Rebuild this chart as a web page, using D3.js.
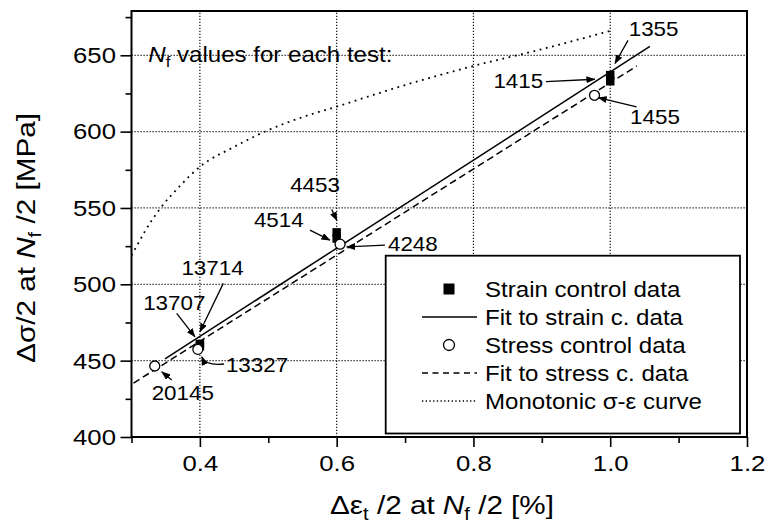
<!DOCTYPE html>
<html>
<head>
<meta charset="utf-8">
<script src="https://cdn.jsdelivr.net/npm/d3@7"></script>
<style>
  html, body { margin: 0; padding: 0; background: #fff; }
  svg { display: block; }
  text { font-family: "Liberation Sans", Arial, Helvetica, sans-serif; fill: #000; }
</style>
</head>
<body>
<svg id="chart" width="769" height="528"></svg>
<script>
// ---------- data ----------
const xTicksMajor = [0.4, 0.6, 0.8, 1.0, 1.2];
const xTicksMinor = [0.3, 0.5, 0.7, 0.9, 1.1];
const yTicksMajor = [400, 450, 500, 550, 600, 650];
const yTicksMinor = [425, 475, 525, 575, 625, 675];
const xGrid = [0.4, 0.6, 0.8, 1.0];
const yGrid = [450, 500, 550, 600, 650];

const strainX = [0.4, 0.4, 0.6, 0.6, 1.0, 1.0];
const strainY = [461, 459.5, 534, 530, 637, 633];
const strainN = ["13707", "13714", "4453", "4514", "1355", "1415"];

const stressX = [0.334, 0.397, 0.605, 0.977];
const stressY = [446.5, 457.4, 526.3, 623.8];
const stressN = ["20145", "13327", "4248", "1455"];

const strainFitX = [0.349, 1.058];
const strainFitY = [451.2, 655.8];
const stressFitX = [0.303, 1.039];
const stressFitY = [435.3, 643.0];

const monoX = [0.3, 0.31, 0.32, 0.34, 0.37, 0.4, 0.45, 0.5, 0.55, 0.6, 0.7, 0.8, 0.9, 1.0];
const monoY = [519, 527, 535, 548.5, 564, 577, 590, 601, 609.5, 616.4, 630.5, 643, 654, 666];

// annotation labels: label start (data units), arrow from -> to (data units)
const annLabels = ["1355", "1415", "1455", "4453", "4514", "4248", "13714", "13707", "13327", "20145"];
const annLX =     [1.027, 0.902, 1.029, 0.532, 0.479, 0.675, 0.373, 0.317, 0.438, 0.3295];
const annLY =     [662.4, 628.4, 605.2, 560.3, 537.4, 521.7, 506.0, 483.1, 442.5, 424.2];
const annAnchor = ["start", "end", "start", "start", "start", "start", "start", "start", "start", "start"];
const annFromX =  [1.026, 0.906, 1.0386, 0.5927, 0.561, 0.6706, 0.4342, 0.3661, 0.4352, 0.3588];
const annFromY =  [659.8, 632.7, 616.2, 549.0, 535.5, 525.7, 500.6, 481.0, 447.8, 437.3];
const annToX =    [1.0069, 0.9776, 0.9824, 0.6004, 0.5902, 0.6146, 0.4001, 0.3928, 0.4026, 0.3442];
const annToY =    [644.6, 634.3, 622.3, 541.7, 528.9, 524.5, 468.9, 465.6, 452.6, 442.7];

const legendLabels = ["Strain control data", "Fit to strain c. data", "Stress control data", "Fit to stress c. data", "Monotonic σ-ε curve"];
const legendKinds = ["square", "solid", "circle", "dashed", "dotted"];

// ---------- layout ----------
const S = 1.12; // horizontal text stretch
const svg = d3.select("#chart");
const x = d3.scaleLinear().domain([0.3, 1.2]).range([131.5, 747]);
const y = d3.scaleLinear().domain([400, 679]).range([437, 11]);

function txt(parent, px, py, anchor, size) {
  return parent.append("text")
    .attr("transform", `translate(${px},${py}) scale(${S},1)`)
    .attr("text-anchor", anchor)
    .style("font-size", size + "px");
}

// defs
const defs = svg.append("defs");
defs.append("marker").attr("id", "arr")
  .attr("markerUnits", "userSpaceOnUse")
  .attr("markerWidth", 9).attr("markerHeight", 7)
  .attr("refX", 8.5).attr("refY", 3.5).attr("orient", "auto")
  .append("path").attr("d", "M0,0 L9,3.5 L0,7 Z").attr("fill", "#000");

// grid
const grid = svg.append("g");
grid.selectAll("line.vx").data(xGrid).join("line")
  .attr("x1", d => x(d)).attr("x2", d => x(d))
  .attr("y1", y.range()[0]).attr("y2", y.range()[1])
  .attr("stroke", "#111").attr("stroke-width", 1.2).attr("stroke-dasharray", "1.2,1.8");
grid.selectAll("line.hy").data(yGrid).join("line")
  .attr("y1", d => y(d)).attr("y2", d => y(d))
  .attr("x1", x.range()[0]).attr("x2", x.range()[1])
  .attr("stroke", "#111").attr("stroke-width", 1.2).attr("stroke-dasharray", "1.2,1.8");

// Nf note
const note = txt(svg, x(0.3245), y(645.6), "start", 21.5);
note.append("tspan").style("font-style", "italic").text("N");
note.append("tspan").attr("dy", 5).style("font-size", "15px").text("f");
note.append("tspan").attr("dy", -5).text(" values for each test:");

// monotonic curve
const line = d3.line().x(d => x(d[0])).y(d => y(d[1]));
svg.append("path")
  .datum(monoX.map((v, i) => [v, monoY[i]]))
  .attr("d", line.curve(d3.curveMonotoneX))
  .attr("fill", "none").attr("stroke", "#000").attr("stroke-width", 1.8)
  .attr("stroke-dasharray", "1.8,4.6");

const lineL = d3.line().x(d => x(d[0])).y(d => y(d[1]));
svg.append("path")
  .datum(stressFitX.map((v, i) => [v, stressFitY[i]]))
  .attr("d", lineL)
  .attr("fill", "none").attr("stroke", "#000").attr("stroke-width", 1.5)
  .attr("stroke-dasharray", "7,4");
svg.append("path")
  .datum(strainFitX.map((v, i) => [v, strainFitY[i]]))
  .attr("d", lineL)
  .attr("fill", "none").attr("stroke", "#000").attr("stroke-width", 1.5);

// markers
const sq = 8.5;
svg.selectAll("rect.strain").data(strainX.map((v, i) => [v, strainY[i]])).join("rect")
  .attr("x", d => x(d[0]) - sq / 2).attr("y", d => y(d[1]) - sq / 2)
  .attr("width", sq).attr("height", sq).attr("fill", "#000");
svg.selectAll("circle.stress").data(stressX.map((v, i) => [v, stressY[i]])).join("circle")
  .attr("cx", d => x(d[0])).attr("cy", d => y(d[1])).attr("r", 5)
  .attr("fill", "#fff").attr("stroke", "#000").attr("stroke-width", 1.3);

// annotations
const ann = svg.append("g");
annLabels.forEach((lab, i) => {
  txt(ann, x(annLX[i]), y(annLY[i]), annAnchor[i], 20).text(lab);
  const fx = x(annFromX[i]), fy = y(annFromY[i]), tx = x(annToX[i]), ty = y(annToY[i]);
  let d;
  if (lab === "13327") {
    const p = d3.path(); p.moveTo(fx, fy);
    p.quadraticCurveTo(tx + 4, fy + 2, tx, ty);
    d = p.toString();
  } else {
    d = `M${fx},${fy}L${tx},${ty}`;
  }
  ann.append("path").attr("d", d).attr("fill", "none")
    .attr("stroke", "#000").attr("stroke-width", 1.3).attr("marker-end", "url(#arr)");
});

// legend
const lg = svg.append("g");
lg.append("rect").attr("x", 385.7).attr("y", 255.7).attr("width", 354.3).attr("height", 177.8)
  .attr("fill", "#fff").attr("stroke", "#000").attr("stroke-width", 1.8);
legendLabels.forEach((lab, i) => {
  const cy = 289 + i * 28;
  const k = legendKinds[i];
  if (k === "square") {
    lg.append("rect").attr("x", 449 - 5.5).attr("y", cy - 5.5).attr("width", 11).attr("height", 11).attr("fill", "#000");
  } else if (k === "circle") {
    lg.append("circle").attr("cx", 449).attr("cy", cy).attr("r", 5.5)
      .attr("fill", "#fff").attr("stroke", "#000").attr("stroke-width", 1.3);
  } else {
    const l = lg.append("line").attr("x1", 422).attr("x2", 477).attr("y1", cy).attr("y2", cy)
      .attr("stroke", "#000").attr("stroke-width", 1.3);
    if (k === "dashed") l.attr("stroke-dasharray", "6,4.5");
    if (k === "dotted") l.attr("stroke-dasharray", "1.3,2.4");
  }
  txt(lg, 485, cy + 7.5, "start", 21.5).text(lab);
});

// axes
const gx = svg.append("g").attr("transform", `translate(0,${y.range()[0]})`);
gx.call(d3.axisBottom(x).tickValues(xTicksMajor).tickSize(10).tickPadding(8)
  .tickFormat(d3.format(".1f")));
gx.append("g").call(d3.axisBottom(x).tickValues(xTicksMinor).tickSize(6).tickFormat(""));
gx.selectAll(".domain").remove();
gx.selectAll("line").attr("stroke-width", 1.6);
gx.selectAll("text").style("font-size", "23px")
  .attr("transform", `scale(${S},1)`)
  .attr("x", 0);

const gy = svg.append("g").attr("transform", `translate(${x.range()[0]},0)`);
gy.call(d3.axisLeft(y).tickValues(yTicksMajor).tickSize(11).tickPadding(4));
gy.append("g").call(d3.axisLeft(y).tickValues(yTicksMinor).tickSize(6).tickFormat(""));
gy.selectAll(".domain").remove();
gy.selectAll("line").attr("stroke-width", 1.6);
gy.selectAll(".tick text").style("font-size", "23px")
  .attr("x", 0)
  .attr("transform", `translate(-15.5,0) scale(${S},1)`);

// frame
svg.append("rect").attr("x", x.range()[0]).attr("y", y.range()[1])
  .attr("width", x.range()[1] - x.range()[0]).attr("height", y.range()[0] - y.range()[1])
  .attr("fill", "none").attr("stroke", "#000").attr("stroke-width", 2);

// axis titles
const xt = txt(svg, 442, 514, "middle", 26.5);
xt.append("tspan").text("Δε");
xt.append("tspan").attr("dy", 6).style("font-size", "18px").text("t");
xt.append("tspan").attr("dy", -6).text(" /2 at ");
xt.append("tspan").style("font-style", "italic").text("N");
xt.append("tspan").attr("dy", 6).style("font-size", "18px").text("f");
xt.append("tspan").attr("dy", -6).text(" /2 [%]");

const yt = svg.append("text")
  .attr("transform", `translate(35,238) rotate(-90) scale(${S},1)`)
  .attr("text-anchor", "middle").style("font-size", "26.5px");
yt.append("tspan").text("Δσ/2 at ");
yt.append("tspan").style("font-style", "italic").text("N");
yt.append("tspan").attr("dy", 6).style("font-size", "18px").text("f");
yt.append("tspan").attr("dy", -6).text(" /2 [MPa]");
</script>
</body>
</html>
